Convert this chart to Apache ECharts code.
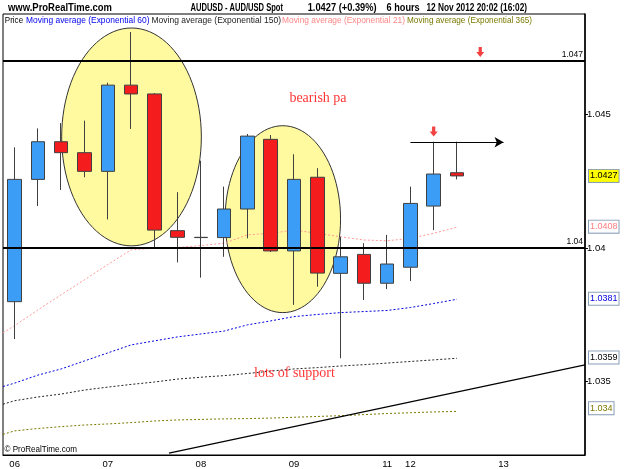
<!DOCTYPE html>
<html>
<head>
<meta charset="utf-8">
<script src="https://cdn.jsdelivr.net/npm/echarts@6/dist/echarts.min.js"></script>
<style>
html,body{margin:0;padding:0;background:#fff;}
#chart{width:625px;height:469px;}
</style>
</head>
<body>
<div id="chart"></div>
<script>
// ---- data ----
const xLabels = ['06','','','','07','','','','08','','','','09','','','','11','12','','','','13','','',''];
const opens  = [1.03799,1.04257,1.04398,1.04357,1.04287,1.04610,1.04577,1.04065,1.04040,1.04039,1.04146,1.04407,1.03989,1.04265,1.03905,1.03976,1.03868,1.03928,1.04157,1.04282];
const closes = [1.04257,1.04398,1.04357,1.04287,1.04610,1.04577,1.04067,1.04040,1.04039,1.04146,1.04419,1.03989,1.04257,1.03906,1.03967,1.03868,1.03940,1.04167,1.04277,1.04270];
const highs  = [1.04377,1.04448,1.04468,1.04477,1.04619,1.04809,1.04580,1.04209,1.04327,1.04230,1.04427,1.04423,1.04351,1.04299,1.04042,1.04018,1.04049,1.04230,1.04398,1.04398];
const lows   = [1.03659,1.04157,1.04217,1.04265,1.04107,1.04446,1.03999,1.03946,1.03889,1.03967,1.04036,1.03985,1.03787,1.03855,1.03587,1.03805,1.03846,1.03876,1.04067,1.04257];
// moving averages: first value sits at the left edge of the window (x = -0.5)
const maX    = [-0.5,0,1,2,3,4,5,6,7,8,9,10,11,12,13,14,15,16,17,18,19];
const ema21  = [1.03682,1.03709,1.03768,1.03825,1.03881,1.03938,1.03993,1.03999,1.04002,1.04009,1.04018,1.04049,1.04055,1.04067,1.04055,1.04042,1.04030,1.04027,1.04036,1.04055,1.04078];
const ema60  = [1.03481,1.03494,1.03524,1.03547,1.03577,1.03607,1.03637,1.03652,1.03667,1.03678,1.03689,1.03712,1.03727,1.03743,1.03751,1.03758,1.03762,1.03766,1.03777,1.03792,1.03808];
const ema150 = [1.03415,1.03428,1.03442,1.03453,1.03468,1.03479,1.03489,1.03498,1.03509,1.03516,1.03522,1.03530,1.03539,1.03547,1.03552,1.03558,1.03563,1.03569,1.03575,1.03581,1.03587];
const ema365 = [1.03302,1.03315,1.03324,1.03331,1.03337,1.03341,1.03346,1.03352,1.03356,1.03358,1.03360,1.03361,1.03363,1.03366,1.03369,1.03372,1.03376,1.03380,1.03383,1.03386,1.03388];
const yTickValues = [1.035, 1.04, 1.045];
const levelLines = [1.047, 1.04];
const lastPrice = 1.0427;
const lastLabels = {ema21: 1.0408, ema60: 1.0381, ema150: 1.0359, ema365: 1.034};
// annotations (x in candle-index units, y in price)
const trendX = [6.63, 24.5];
const trendY = [1.03232, 1.03562];
const arrowLineX = [17, 21];
const arrowLineY = 1.04396;
const downArrowsX = [18, 20];
const downArrowsY = [1.04436, 1.04734];
const ellipseCX = [5.02, 11.52];
const ellipseCY = [1.04416, 1.04108];
const ellipseRX = [3.0, 2.48];
const ellipseRY = [0.00408, 0.0035];
const noteTexts = ['bearish pa', 'lots of support'];
const noteX = [13.03, 12.02];
const noteY = [1.04562, 1.03532];

// ---- layout ----
const YMIN = 1.032247, YMAX = 1.048764;
const chart = echarts.init(document.getElementById('chart'), null, {renderer: 'canvas'});

const ctx = document.createElement('canvas').getContext('2d');
function fitText(text, x0, x1, yc, font, color) {
  ctx.font = font;
  const w = ctx.measureText(text).width;
  return {type: 'text', x: x0, y: yc, scaleX: (x1 - x0) / w, z: 100, silent: true,
    style: {text: text, font: font, fill: color, verticalAlign: 'middle', align: 'left'}};
}
const HF = 'bold 11px "Liberation Sans", Arial, sans-serif';
const LF = '9px "Liberation Sans", Arial, sans-serif';
const graphics = [
  fitText('www.ProRealTime.com', 8, 112, 7.5, HF, '#000'),
  fitText('AUDUSD - AUD/USD Spot', 190.5, 283, 7.5, HF, '#000'),
  fitText('1.0427 (+0.39%)', 307.7, 376.6, 7.5, HF, '#000'),
  fitText('6 hours', 386.6, 419.7, 7.5, HF, '#000'),
  fitText('12 Nov 2012 20:02 (16:02)', 426.5, 527, 7.5, HF, '#000'),
  fitText('Price', 4.8, 23.1, 20.5, LF, '#000'),
  fitText('Moving average (Exponential 60)', 26, 149.5, 20.5, LF, '#0000ee'),
  fitText('Moving average (Exponential 150)', 151.5, 281, 20.5, LF, '#222'),
  fitText('Moving average (Exponential 21)', 282, 405, 20.5, LF, '#ff8888'),
  fitText('Moving average (Exponential 365)', 407, 532, 20.5, LF, '#7a7a00'),
  fitText('\u00A9 ProRealTime.com', 4.5, 77, 449.5, LF, '#000')
];

function boxLabel(text, color, bg) {
  return {show: true, position: 'end', distance: 4, formatter: text, color: color, opacity: 1,
    backgroundColor: bg, borderColor: '#8aa0b8', borderWidth: 1, padding: [2, 1, 1, 1],
    fontSize: 9, fontFamily: '"Liberation Sans", Arial'};
}
function hiddenMark(val, label) {
  return {silent: true, symbol: 'none', animation: false, precision: 6,
    lineStyle: {color: 'rgba(0,0,0,0)', width: 0.01, type: 'solid'},
    label: label,
    data: [{yAxis: val}]};
}
function maData(arr) { return maX.map((x, i) => [x, arr[i]]); }

const ellipseData = ellipseCX.map((cx, i) => [cx, ellipseCY[i]]);

const option = {
  animation: false,
  backgroundColor: '#fff',
  graphic: graphics,
  grid: {left: 3, right: 40, top: 14, bottom: 14, show: true, borderColor: '#000', borderWidth: 1, backgroundColor: 'transparent'},
  xAxis: [
    {type: 'category', data: xLabels, boundaryGap: true,
     axisLine: {lineStyle: {color: '#000', width: 1}},
     axisTick: {alignWithLabel: true, length: 3, interval: (i) => xLabels[i] !== '', lineStyle: {color: '#000'}},
     axisLabel: {interval: 0, margin: 4, fontSize: 9.5, color: '#000', fontFamily: '"Liberation Sans", Arial'},
     splitLine: {show: false}},
    {type: 'value', min: -0.5, max: 24.5, show: false, axisLine: {onZero: false}}
  ],
  yAxis: {
    type: 'value', position: 'right', min: YMIN, max: YMAX, scale: true,
    axisLine: {show: true, onZero: false, lineStyle: {color: '#000', width: 1.5}},
    axisTick: {show: true, length: 3, customValues: yTickValues, lineStyle: {color: '#000'}},
    axisLabel: {customValues: yTickValues, margin: 2, fontSize: 9.5, color: '#000', fontFamily: '"Liberation Sans", Arial',
      formatter: (v) => String(+(+v).toFixed(4))},
    splitLine: {show: false}
  },
  series: [
    {type: 'custom', xAxisIndex: 1, z: 1, silent: true, data: ellipseData,
     encode: {x: 0, y: 1},
     renderItem: function (params, api) {
       const i = params.dataIndex;
       const c = api.coord([ellipseCX[i], ellipseCY[i]]);
       const rx = Math.abs(api.coord([ellipseCX[i] + ellipseRX[i], ellipseCY[i]])[0] - c[0]);
       const ry = Math.abs(api.coord([ellipseCX[i], ellipseCY[i] + ellipseRY[i]])[1] - c[1]);
       const pts = [];
       for (let k = 0; k < 96; k++) {
         const t = k / 96 * Math.PI * 2;
         pts.push([c[0] + rx * Math.cos(t), c[1] + ry * Math.sin(t)]);
       }
       return {type: 'polygon', shape: {points: pts}, style: {fill: '#fffaa0', stroke: '#333', lineWidth: 1}};
     }},
    {name: 'EMA21', type: 'line', xAxisIndex: 1, data: maData(ema21), symbol: 'none', z: 3, silent: true,
     lineStyle: {color: '#ff9999', width: 1, type: [2, 2]},
     markLine: hiddenMark(lastLabels.ema21, boxLabel('1.0408', '#ff8080', '#fff'))},
    {name: 'EMA60', type: 'line', xAxisIndex: 1, data: maData(ema60), symbol: 'none', z: 3, silent: true,
     lineStyle: {color: '#0000dd', width: 1, type: [2, 2]},
     markLine: hiddenMark(lastLabels.ema60, boxLabel('1.0381', '#0000dd', '#fff'))},
    {name: 'EMA150', type: 'line', xAxisIndex: 1, data: maData(ema150), symbol: 'none', z: 3, silent: true,
     lineStyle: {color: '#222', width: 1, type: [2, 2]},
     markLine: hiddenMark(lastLabels.ema150, boxLabel('1.0359', '#000', '#fff'))},
    {name: 'EMA365', type: 'line', xAxisIndex: 1, data: maData(ema365), symbol: 'none', z: 3, silent: true,
     lineStyle: {color: '#7a7a00', width: 1, type: [2, 2]},
     markLine: hiddenMark(lastLabels.ema365, boxLabel('1.034', '#7a7a00', '#fff'))},
    {name: 'Price', type: 'candlestick', z: 4, barWidth: 14,
     data: opens.map((o, i) => [o, closes[i], lows[i], highs[i]]),
     itemStyle: {color: '#3b9df5', color0: '#f41c1c', borderColor: '#404040', borderColor0: '#404040', borderWidth: 1},
     markLine: {silent: true, symbol: 'none', animation: false, precision: 6,
       lineStyle: {color: '#000', width: 2, type: 'solid'},
       data: [
         {yAxis: levelLines[0], label: {show: true, position: 'insideEndTop', distance: 2, formatter: '1.047', fontSize: 8.5, color: '#000'}},
         {yAxis: levelLines[1], label: {show: true, position: 'insideEndTop', distance: 2, formatter: '1.04', fontSize: 8.5, color: '#000'}}
       ]}},
    {name: 'lastPrice', type: 'line', data: [], silent: true,
     markLine: hiddenMark(lastPrice, boxLabel('1.0427', '#000', '#ffff00'))},
    {name: 'trend', type: 'line', xAxisIndex: 1, z: 5, symbol: 'none', silent: true,
     data: trendX.map((x, i) => [x, trendY[i]]),
     lineStyle: {color: '#000', width: 1.2},
     markLine: {silent: true, animation: false, precision: 6, symbol: ['none', 'arrow'], symbolSize: [8, 9],
       lineStyle: {color: '#000', width: 1.2, type: 'solid'}, label: {show: false},
       data: [[{coord: [arrowLineX[0], arrowLineY]}, {coord: [arrowLineX[1], arrowLineY]}]]}},
    {name: 'arrows', type: 'scatter', xAxisIndex: 1, z: 6, silent: true,
     symbol: 'path://M3,0 L7,0 L7,5 L10,5 L5,10 L0,5 L3,5 Z', symbolSize: [8, 10],
     itemStyle: {color: '#ee1111'},
     data: downArrowsX.map((x, i) => [x, downArrowsY[i]])},
    {name: 'notes', type: 'scatter', xAxisIndex: 1, z: 7, silent: true, symbolSize: 1,
     itemStyle: {color: 'rgba(0,0,0,0)'},
     label: {show: true, position: 'inside', formatter: (p) => noteTexts[p.dataIndex],
       color: '#ff0000', fontSize: 14, fontFamily: '"Liberation Serif", "Times New Roman", serif'},
     data: noteX.map((x, i) => [x, noteY[i]])}
  ]
};
chart.setOption(option);
</script>
</body>
</html>
